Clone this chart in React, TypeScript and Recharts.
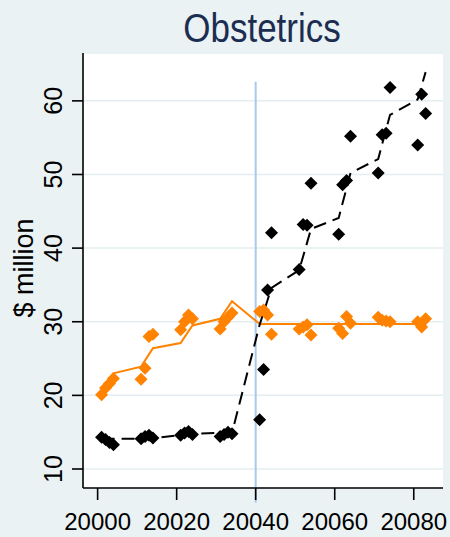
import React from 'react';
import {
  ComposedChart,
  Scatter,
  Line,
  XAxis,
  YAxis,
  CartesianGrid,
  ReferenceLine,
} from 'recharts';

// Period index for each observation (nine blocks of up to four periods)
const periods = [
  20001, 20002, 20003, 20004,
  20011, 20012, 20013, 20014,
  20021, 20022, 20023, 20024,
  20031, 20032, 20033, 20034,
  20041, 20042, 20043, 20044,
  20051, 20052, 20053, 20054,
  20061, 20062, 20063, 20064,
  20071, 20072, 20073, 20074,
  20081, 20082, 20083,
];

// Observed spending, $ million
const blackObserved = [
  14.3, 14.0, 13.6, 13.3,
  14.1, 14.4, 14.6, 14.2,
  14.6, 14.9, 15.1, 14.7,
  14.4, 14.7, 15.0, 14.8,
  16.7, 23.5, 34.3, 42.1,
  37.1, 43.2, 43.1, 48.8,
  41.9, 48.6, 49.2, 55.2,
  50.2, 55.4, 55.6, 61.8,
  54.0, 60.9, 58.3,
];

const orangeObserved = [
  20.1, 21.0, 21.6, 22.3,
  22.2, 23.7, 28.0, 28.3,
  28.9, 30.0, 30.9, 30.4,
  29.0, 30.0, 30.6, 31.2,
  31.4, 31.6, 30.9, 28.3,
  29.0, 29.3, 29.6, 28.2,
  29.1, 28.4, 30.7, 29.8,
  30.6, 30.2, 30.1, 30.0,
  30.0, 29.3, 30.4,
];

// Fitted trend, evaluated at the first and last period of each block
const fitPeriods = [
  20001, 20004, 20011, 20014, 20021, 20024, 20031, 20034, 20041,
  20044, 20051, 20054, 20061, 20064, 20071, 20074, 20081, 20083,
];
const blackFitted = [
  14.1, 14.1, 14.1, 14.2, 14.6, 14.8, 14.9, 14.9, 29.6,
  34.6, 37.0, 42.6, 44.1, 50.2, 52.1, 58.1, 60.2, 63.9,
];
const orangeFitted = [
  20.7, 23.0, 23.9, 26.4, 27.1, 29.5, 30.4, 32.8, 29.7,
  29.7, 29.7, 29.7, 29.7, 29.7, 29.7, 29.7, 29.7, 29.7,
];

const xTicks = [20000, 20020, 20040, 20060, 20080];
const yTicks = [10, 20, 30, 40, 50, 60];
const interventionPeriod = 20040;

const blackPoints = periods.map((x, i) => ({ x, y: blackObserved[i] }));
const orangePoints = periods.map((x, i) => ({ x, y: orangeObserved[i] }));
const blackFitLine = fitPeriods.map((x, i) => ({ x, y: blackFitted[i] }));
const orangeFitLine = fitPeriods.map((x, i) => ({ x, y: orangeFitted[i] }));

const FONT = '"Liberation Sans", Arial, Helvetica, sans-serif';
const BG = '#eaf2f3';
const ORANGE = '#ff8200';

const diamond = (fill: string) => (props: any) => {
  const { cx, cy } = props;
  const r = 6.5;
  return (
    <path
      d={`M${cx},${cy - r}L${cx + r},${cy}L${cx},${cy + r}L${cx - r},${cy}Z`}
      fill={fill}
    />
  );
};

const YTick = (props: any) => {
  const { x, y, payload } = props;
  const bx = x - 8;
  return (
    <text
      x={bx}
      y={y}
      transform={`rotate(-90, ${bx}, ${y})`}
      textAnchor="middle"
      fontSize={25}
      fontFamily={FONT}
      fill="#000"
    >
      {payload.value}
    </text>
  );
};

const XTick = (props: any) => {
  const { x, y, payload } = props;
  return (
    <text
      x={x}
      y={y + 28}
      textAnchor="middle"
      fontSize={24}
      fontFamily={FONT}
      fill="#000"
    >
      {payload.value}
    </text>
  );
};

export default function App() {
  return (
    <div
      style={{
        position: 'absolute',
        left: 0,
        top: 0,
        width: 450,
        height: 537,
        background: BG,
      }}
    >
      <ComposedChart
        width={450}
        height={537}
        margin={{ top: 53, right: 7, bottom: 9, left: 23 }}
      >
        <CartesianGrid
          vertical={false}
          stroke="#e4eef1"
          strokeWidth={1.5}
          fill="#ffffff"
          fillOpacity={1}
        />
        <XAxis
          type="number"
          dataKey="x"
          domain={[19996.3, 20087.4]}
          ticks={xTicks}
          tick={<XTick />}
          tickSize={12}
          height={40}
          axisLine={{ stroke: '#000', strokeWidth: 1.6 }}
          tickLine={{ stroke: '#000', strokeWidth: 1.6 }}
          allowDataOverflow
        />
        <YAxis
          type="number"
          domain={[7.42, 66.5]}
          ticks={yTicks}
          tick={<YTick />}
          tickSize={11}
          width={60}
          axisLine={{ stroke: '#000', strokeWidth: 1.6 }}
          tickLine={{ stroke: '#000', strokeWidth: 1.6 }}
          allowDataOverflow
        />
        <Scatter
          data={orangePoints}
          dataKey="y"
          shape={diamond(ORANGE)}
          isAnimationActive={false}
        />
        <Scatter
          data={blackPoints}
          dataKey="y"
          shape={diamond('#000')}
          isAnimationActive={false}
        />
        <ReferenceLine
          segment={[
            { x: interventionPeriod, y: 62.6 },
            { x: interventionPeriod, y: 5.4 },
          ]}
          stroke="#a8c9ef"
          strokeWidth={2}
          ifOverflow="visible"
        />
        <Line
          data={orangeFitLine}
          dataKey="y"
          type="linear"
          stroke={ORANGE}
          strokeWidth={2}
          dot={false}
          activeDot={false}
          isAnimationActive={false}
        />
        <Line
          data={blackFitLine}
          dataKey="y"
          type="linear"
          stroke="#000"
          strokeWidth={2}
          strokeDasharray="13 7"
          dot={false}
          activeDot={false}
          isAnimationActive={false}
        />
      </ComposedChart>
      <svg
        width={450}
        height={537}
        style={{ position: 'absolute', left: 0, top: 0, pointerEvents: 'none' }}
      >
        <text
          transform="translate(262, 42) scale(1, 1.14)"
          x={0}
          y={0}
          textAnchor="middle"
          fontSize={35}
          fontFamily={FONT}
          fill="#1c2d52"
        >
          Obstetrics
        </text>
        <text
          x={33}
          y={268}
          transform="rotate(-90, 33, 268)"
          textAnchor="middle"
          fontSize={27}
          fontFamily={FONT}
          fill="#000"
        >
          $ million
        </text>
      </svg>
    </div>
  );
}
